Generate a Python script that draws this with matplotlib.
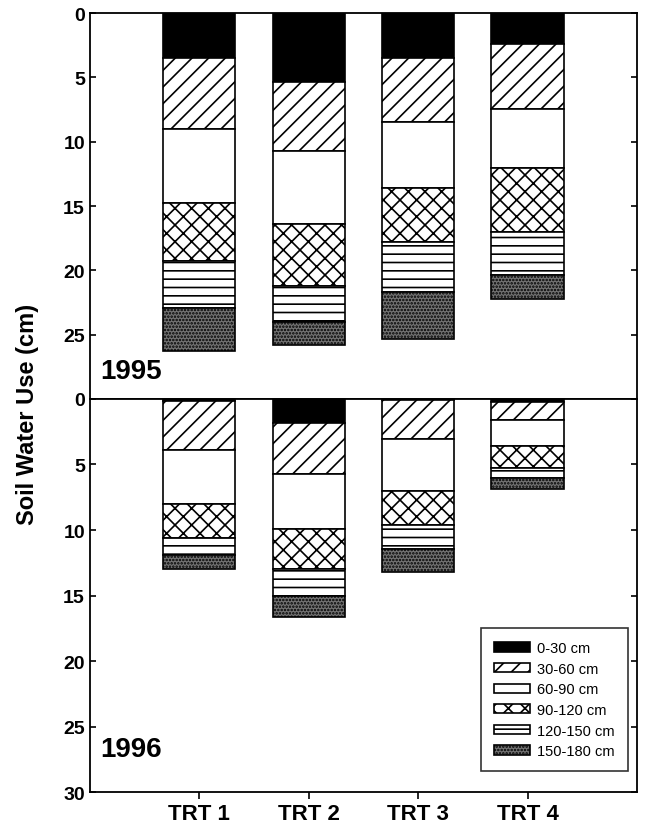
import numpy as np
import matplotlib
matplotlib.use("Agg")
import matplotlib.pyplot as plt

plt.rcParams['font.family'] = ['Liberation Sans', 'DejaVu Sans']
plt.rcParams['hatch.linewidth'] = 1.2

treatments = ["TRT 1", "TRT 2", "TRT 3", "TRT 4"]
layers = ["0-30 cm", "30-60 cm", "60-90 cm", "90-120 cm", "120-150 cm", "150-180 cm"]

# water use per soil layer (cm), rows = layers top to bottom
use_1995 = [
    [3.5, 5.35, 3.5, 2.4],
    [5.5, 5.35, 5.0, 5.05],
    [5.8, 5.7, 5.1, 4.6],
    [4.5, 4.8, 4.2, 4.95],
    [3.6, 2.8, 3.9, 3.35],
    [3.4, 1.8, 3.6, 1.9],
]
use_1996 = [
    [0.15, 1.8, 0.05, 0.25],
    [3.75, 3.95, 3.0, 1.35],
    [4.15, 4.15, 4.0, 2.0],
    [2.55, 3.05, 2.55, 1.65],
    [1.3, 2.05, 1.85, 0.75],
    [1.1, 1.65, 1.75, 0.85],
]

faces = ["black", "white", "white", "white", "white", "0.45"]
hatches = [None, "//", None, "xx", "--", "....."]

fig = plt.figure(figsize=(6.46, 8.29), dpi=100)
ax1 = fig.add_axes([0.139, 0.5175, 0.847, 0.4656])
ax2 = fig.add_axes([0.139, 0.0434, 0.847, 0.4741])

x = np.arange(1, len(treatments) + 1)


def draw(ax, data, year, ypos):
    bottom = np.zeros(len(treatments))
    for vals, fc, h, lab in zip(data, faces, hatches, layers):
        ax.bar(x, vals, width=0.66, bottom=bottom, color=fc, hatch=h,
               edgecolor="black", linewidth=1.2, label=lab)
        bottom += np.array(vals)
    ax.set_xlim(0, 5)
    ax.set_ylim(30, 0)
    for s in ax.spines.values():
        s.set_linewidth(1.3)
    ax.tick_params(axis="y", direction="in", right=True, length=4, width=1.2,
                   labelsize=14)
    ax.text(0.02, ypos, year, transform=ax.transAxes, fontsize=20,
            fontweight="bold", va="bottom", ha="left")


draw(ax1, use_1995, "1995", 0.038)
draw(ax2, use_1996, "1996", 0.076)

ax1.set_yticks([0, 5, 10, 15, 20, 25])
ax1.set_yticklabels(["0", "5", "10", "15", "20", "25"], fontweight="bold")
ax1.set_xticks([])

ax2.set_yticks([0, 5, 10, 15, 20, 25, 30])
ax2.set_yticklabels(["0", "5", "10", "15", "20", "25", "30"], fontweight="bold")
ax2.set_xticks(x)
ax2.set_xticklabels(treatments, fontsize=16, fontweight="bold")
ax2.tick_params(axis="x", direction="out", length=5, width=1.2, pad=3)

fig.text(0.042, 0.5, "Soil Water Use (cm)", rotation=90, fontsize=17,
         fontweight="bold", ha="center", va="center")

leg = ax2.legend(loc="lower right", bbox_to_anchor=(0.984, 0.053), fontsize=10.5,
                 frameon=True, fancybox=False, edgecolor="black",
                 handlelength=2.5, handleheight=0.6, labelspacing=0.45,
                 borderpad=0.9, handletextpad=0.5, borderaxespad=0)
leg.get_frame().set_linewidth(1.2)

fig.savefig("out.png", dpi=100)
